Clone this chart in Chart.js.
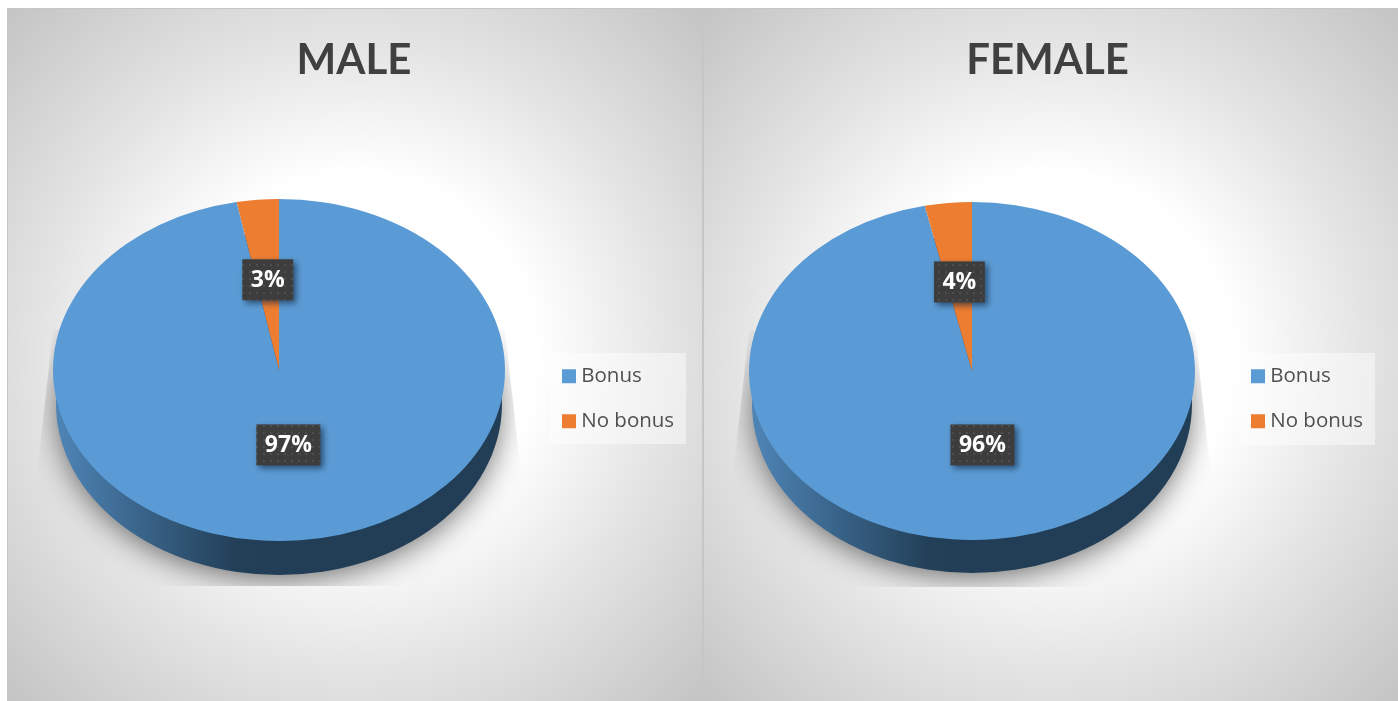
<!DOCTYPE html>
<html>
<head>
<meta charset="utf-8">
<script src="https://cdn.jsdelivr.net/npm/chart.js@4"></script>
<style>
html, body { margin: 0; padding: 0; background: #fff; overflow: hidden; }
canvas {
  position: absolute;
  background: radial-gradient(circle farthest-corner at 50% 50%, #fff 37%, #e4e4e4 64%, #c4c4c4 100%);
  box-shadow: 0 0 0 1px #c6c6c6;
}
#male { left: 8px; top: 9px; }
#female { left: 704px; top: 9px; }
</style>
</head>
<body>
<canvas id="male" width="694" height="692"></canvas>
<canvas id="female" width="694" height="692"></canvas>
<script>
var categories = ['Bonus', 'No bonus'];
var maleValues = [97, 3];
var femaleValues = [96.6, 3.4];
var maleLabels = ['97%', '3%'];
var femaleLabels = ['96%', '4%'];
var colors = ['#5b9bd5', '#ed7d31'];

// dotted fill of the value labels
function dotPattern(ctx) {
  var c = document.createElement('canvas');
  c.width = 7; c.height = 7;
  var p = c.getContext('2d');
  p.fillStyle = '#3d3d3d';
  p.fillRect(0, 0, 7, 7);
  p.fillStyle = '#4e4e4e';
  p.fillRect(3, 3, 2, 2);
  return ctx.createPattern(c, 'repeat');
}

function makePie(id, title, values, labels, g) {
  var k = g.ry / g.rx;

  var piePlugin = {
    id: 'pie3d',
    afterLayout: function(chart) {
      // the pie has a fixed place in the panel, the legend too
      chart.chartArea = {
        left: g.cx - g.rx, right: g.cx + g.rx,
        top: g.cy - g.rx, bottom: g.cy + g.rx,
        width: g.rx * 2, height: g.rx * 2
      };
      var l = chart.legend;
      l.left = g.legendX - 7.5;
      l.right = g.legendX + g.legendW;
      l.top = g.legendY - 11.5;
      // extra room, the legend wraps to a new column if the last item + padding does not fit
      l.bottom = g.legendY + g.legendH + 40;
    },
    beforeDraw: function(chart) {
      var ctx = chart.ctx;
      ctx.save();
      ctx.fillStyle = 'rgba(255,255,255,0.45)';
      ctx.fillRect(g.legendX, g.legendY, g.legendW, g.legendH);
      ctx.restore();
    },
    beforeDatasetsDraw: function(chart) {
      var ctx = chart.ctx;
      var sideY = g.cy + g.depth;

      // soft shadow, cut off like the one in the picture
      ctx.save();
      ctx.beginPath();
      ctx.moveTo(g.cx - g.rx, g.cy - 40);
      ctx.lineTo(g.cx + g.rx, g.cy - 40);
      ctx.lineTo(g.cx + g.rx + 15, g.cy + 95);
      ctx.lineTo(g.cx + g.rx + 15, g.cy + 216);
      ctx.lineTo(g.cx - g.rx - 15, g.cy + 216);
      ctx.lineTo(g.cx - g.rx - 15, g.cy + 95);
      ctx.closePath();
      ctx.clip();
      ctx.shadowColor = 'rgba(0,0,0,0.62)';
      ctx.shadowBlur = 32;
      ctx.shadowOffsetY = 6;
      ctx.fillStyle = '#999';
      ctx.beginPath();
      ctx.ellipse(g.cx, sideY, g.rx - 6, g.ry - 3, 0, 0, Math.PI * 2);
      ctx.fill();
      ctx.restore();

      // side of the disc
      ctx.save();
      var grad = ctx.createLinearGradient(g.cx - g.rx, 0, g.cx, 0);
      grad.addColorStop(0, '#4f86b8');
      grad.addColorStop(0.8, '#234059');
      grad.addColorStop(1, '#223e57');
      ctx.fillStyle = grad;
      ctx.beginPath();
      ctx.ellipse(g.cx, sideY, g.rx - 3, g.ry, 0, 0, Math.PI * 2);
      ctx.fill();
      ctx.restore();

      // top of the disc is squashed into an ellipse
      ctx.save();
      ctx.translate(g.cx, g.cy);
      ctx.scale(1, k);
      ctx.translate(-g.cx, -g.cy);
    },
    afterDatasetsDraw: function(chart) {
      var ctx = chart.ctx;
      ctx.restore();

      var arcs = chart.getDatasetMeta(0).data;
      ctx.save();
      ctx.font = 'bold 23px "Open Sans"';
      ctx.textAlign = 'center';
      ctx.textBaseline = 'middle';
      arcs.forEach(function(arc, i) {
        var mid = (arc.startAngle + arc.endAngle) / 2;
        var r = arc.outerRadius * g.labelPos[i];
        var x = arc.x + Math.cos(mid) * r;
        var y = arc.y + Math.sin(mid) * r * k;
        var w = ctx.measureText(labels[i]).width + 17;
        var h = 41;
        ctx.save();
        ctx.shadowColor = 'rgba(15,35,60,0.65)';
        ctx.shadowBlur = 6;
        ctx.shadowOffsetX = 3;
        ctx.shadowOffsetY = 3;
        ctx.fillStyle = dotPattern(ctx);
        ctx.fillRect(x - w / 2, y - h / 2, w, h);
        ctx.restore();
        ctx.fillStyle = '#fff';
        ctx.fillText(labels[i], x, y + 1);
      });
      ctx.restore();
    }
  };

  return new Chart(document.getElementById(id).getContext('2d'), {
    type: 'pie',
    data: {
      labels: categories,
      datasets: [{
        data: values,
        backgroundColor: colors,
        borderWidth: 0,
        clip: false
      }]
    },
    options: {
      responsive: false,
      animation: false,
      layout: { padding: { right: g.titleShift } },
      plugins: {
        title: {
          display: true,
          text: title,
          color: '#404040',
          font: { family: 'Lato', size: 42, weight: 'bold' },
          padding: { top: 26, bottom: 10 }
        },
        legend: {
          position: 'chartArea',
          align: 'start',
          labels: {
            usePointStyle: true,
            pointStyle: 'rect',
            boxWidth: 4,
            boxHeight: 14,
            padding: 24.5,
            color: '#505050',
            font: { family: '"Open Sans"', size: 20.5 }
          }
        },
        tooltip: { enabled: false }
      }
    },
    plugins: [piePlugin]
  });
}

makePie('male', 'MALE', maleValues, maleLabels, {
  cx: 271, cy: 361, rx: 226, ry: 171, depth: 34,
  legendX: 542, legendY: 344, legendW: 136, legendH: 91,
  labelPos: [0.44, 0.53], titleShift: 2
});
makePie('female', 'FEMALE', femaleValues, femaleLabels, {
  cx: 268, cy: 362, rx: 223, ry: 169, depth: 33,
  legendX: 535, legendY: 344, legendW: 136, legendH: 92,
  labelPos: [0.44, 0.53], titleShift: 7
});
</script>
</body>
</html>
